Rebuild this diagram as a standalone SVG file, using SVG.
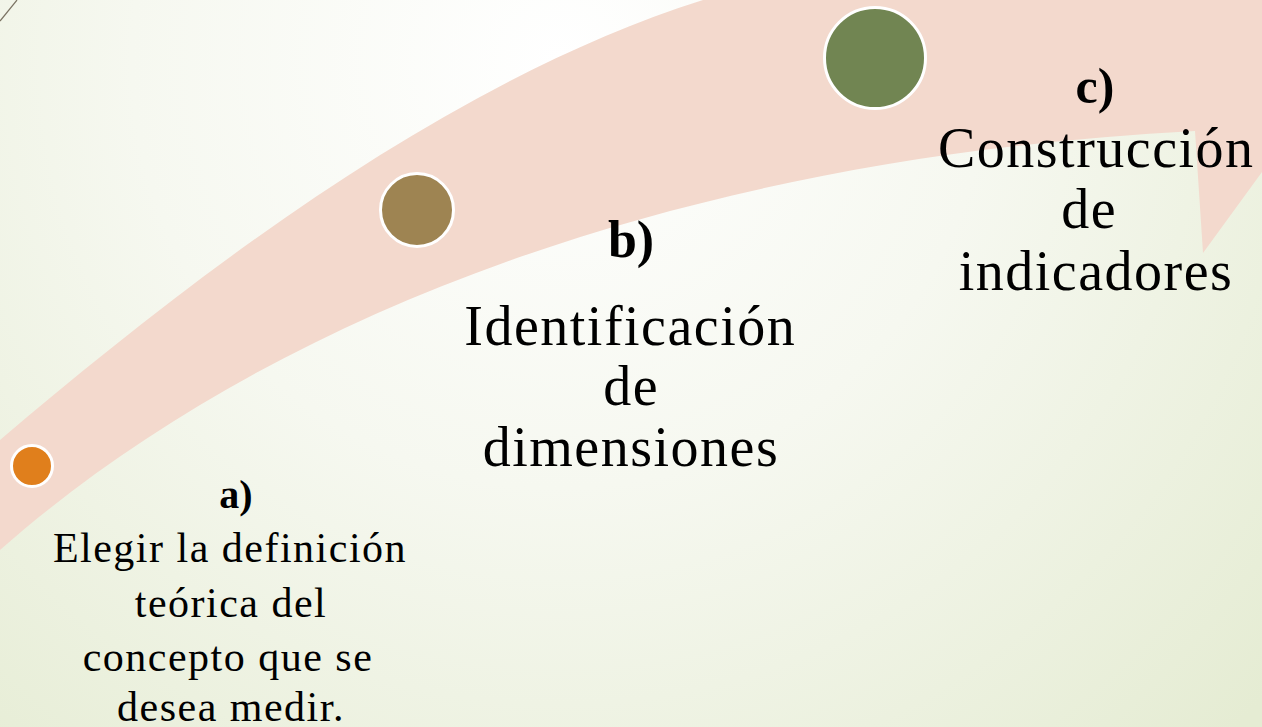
<svg xmlns="http://www.w3.org/2000/svg" width="1262" height="727" viewBox="0 0 1262 727">
  <defs>
    <radialGradient id="bg" gradientUnits="userSpaceOnUse" cx="560" cy="60" r="950">
      <stop offset="0" stop-color="#FFFFFF"/>
      <stop offset="0.45" stop-color="#F6F8F0"/>
      <stop offset="1" stop-color="#E5ECD3"/>
    </radialGradient>
    <style>
      .band { fill: #F3D9CD; }
      .dot { stroke: #FFFFFF; stroke-width: 3; }
      .t { font-family: "Liberation Serif", "DejaVu Serif", serif; fill: #000000; text-anchor: middle; }
      .b { font-weight: bold; }
    </style>
  </defs>
  <rect x="0" y="0" width="1262" height="727" fill="url(#bg)"/>
  <line x1="0" y1="21" x2="17" y2="0" stroke="#7A7262" stroke-width="1.2"/>

  <g id="connectors">
    <path id="arrow" class="band" d="M-10,452 L0,440 C200,270 450,80 703,0 L830,-40 L1300,-40 L1300,120 L1203,253 L1195,131 C650,160 250,330 0,550 L-10,560 Z"/>
  </g>

  <g id="node-a">
    <circle class="dot" cx="32" cy="466" r="20.5" fill="#E07F1C"/>
    <text class="t b" x="236" y="508" font-size="40">a)</text>
    <text class="t" font-size="42" letter-spacing="1.5">
      <tspan x="236" y="562">Elegir la definición</tspan>
      <tspan x="237" y="617">teórica del</tspan>
      <tspan x="234" y="671">concepto que se</tspan>
      <tspan x="231" y="721">desea medir.</tspan>
    </text>
  </g>

  <g id="node-b">
    <circle class="dot" cx="417" cy="210" r="36.5" fill="#9E8452"/>
    <text class="t b" x="631" y="257" font-size="52">b)</text>
    <text class="t" font-size="56" letter-spacing="1.5">
      <tspan x="638" y="345">Identificación</tspan>
      <tspan x="639" y="405">de</tspan>
      <tspan x="631" y="466">dimensiones</tspan>
    </text>
  </g>

  <g id="node-c">
    <circle class="dot" cx="875" cy="58" r="50.5" fill="#718552"/>
    <text class="t b" x="1095" y="103" font-size="50">c)</text>
    <text class="t" font-size="56" letter-spacing="1.5">
      <tspan x="1104" y="167">Construcción</tspan>
      <tspan x="1097" y="228">de</tspan>
      <tspan x="1096" y="290">indicadores</tspan>
    </text>
  </g>
</svg>
